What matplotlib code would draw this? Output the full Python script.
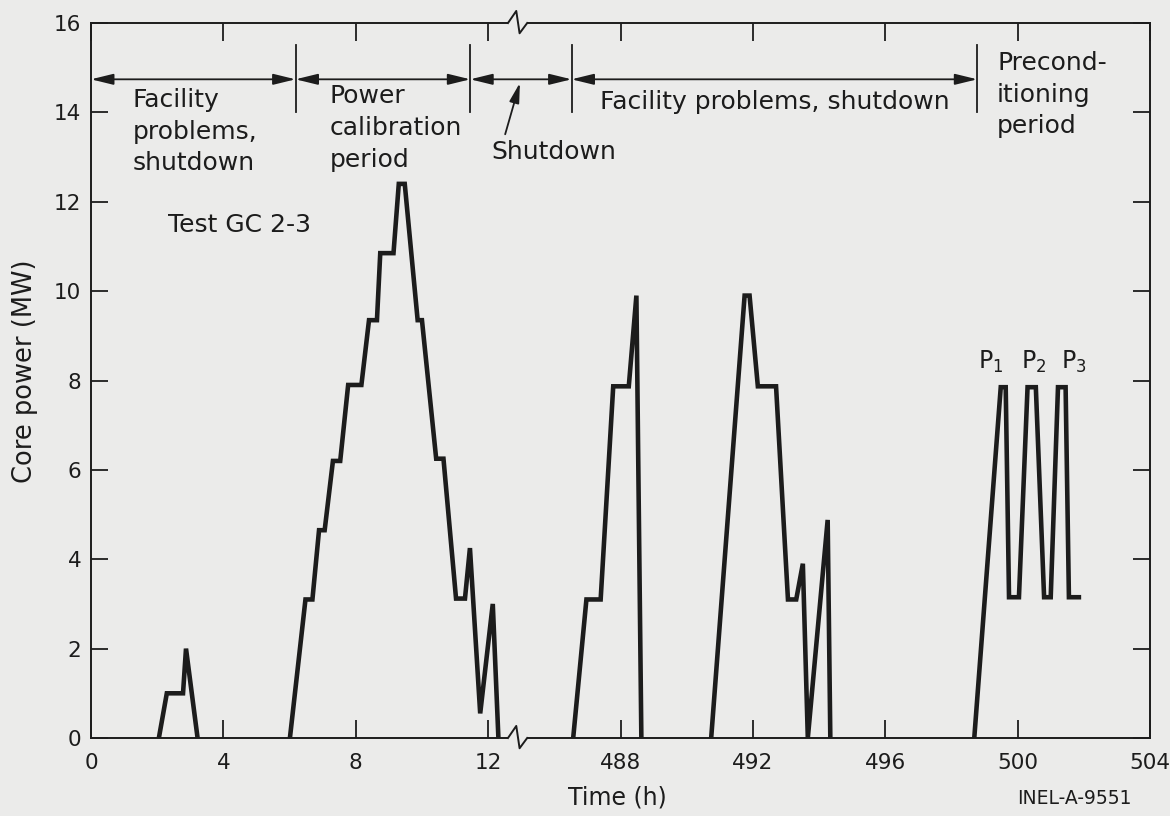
import numpy as np
import matplotlib.pyplot as plt

plt.rcParams['font.family'] = ['DejaVu Sans']
plt.rcParams['mathtext.default'] = 'regular'

BG = '#ebebea'
INK = '#1c1c1c'

# core power history, first day (h)
time_early = [2.05, 2.29, 2.78, 2.87, 3.22,
              6.01, 6.48, 6.69, 6.89, 7.06, 7.31, 7.53, 7.77, 8.17, 8.40, 8.64,
              8.74, 9.14, 9.30, 9.48, 9.87, 10.00, 10.43, 10.65, 11.03, 11.30,
              11.45, 11.76, 12.14, 12.31]
power_early = [0, 1.0, 1.0, 2.0, 0,
               0, 3.1, 3.1, 4.65, 4.65, 6.2, 6.2, 7.9, 7.9, 9.35, 9.35,
               10.85, 10.85, 12.4, 12.4, 9.35, 9.35, 6.25, 6.25, 3.12, 3.12,
               4.25, 0.55, 3.0, 0]

# after the facility outage (h)
time_late = [486.57, 486.97, 487.40, 487.78, 488.25, 488.48, 488.63,
             490.74, 491.75, 491.90, 492.15, 492.70, 493.06, 493.31, 493.51,
             493.66, 494.26, 494.34,
             498.69, 499.49, 499.64, 499.74, 500.04, 500.30, 500.55, 500.80,
             501.00, 501.22, 501.45, 501.55, 501.92]
power_late = [0, 3.1, 3.1, 7.87, 7.87, 9.9, 0,
              0, 9.9, 9.9, 7.87, 7.87, 3.1, 3.1, 3.9,
              0, 4.88, 0,
              0, 7.85, 7.85, 3.15, 3.15, 7.85, 7.85, 3.15, 3.15,
              7.85, 7.85, 3.15, 3.15]

tick_hours = [0, 4, 8, 12, 488, 492, 496, 500, 504]
period_bounds = [0, 6.18, 11.46, 486.52, 498.78]
preconditioning_peaks = ['P$_1$', 'P$_2$', 'P$_3$']
peak_hours = [499.2, 500.5, 501.7]

SKIP = 472.0      # hours cut out of the time axis
BREAK_AT = 12.9   # axis position of the break symbol


def to_axis(t):
    t = np.asarray(t, dtype=float)
    return np.where(t < 100, t, t - SKIP)


def split_zero_runs(t, p):
    # the trace sitting on zero is just the axis line, so leave it out
    xs, ys = [], []
    for i in range(len(t)):
        if i > 0 and p[i] == 0 and p[i - 1] == 0:
            xs.append(np.nan)
            ys.append(np.nan)
        xs.append(t[i])
        ys.append(p[i])
    return np.array(xs), np.array(ys)


fig = plt.figure(figsize=(11.7, 8.16), dpi=100, facecolor=BG)
ax = fig.add_axes([0.0778, 0.0956, 0.9051, 0.8762])
ax.set_facecolor(BG)
ax.set_xlim(0, 32)
ax.set_ylim(0, 16)

for t, p in [(time_early, power_early), (time_late, power_late)]:
    xs, ys = split_zero_runs(t, p)
    ax.plot(to_axis(xs), ys, color=INK, lw=3.3, solid_joinstyle='miter',
            solid_capstyle='butt', zorder=3)

# axes, ticks
for s in ax.spines.values():
    s.set_linewidth(1.4)
    s.set_color(INK)
ax.set_xticks(to_axis(tick_hours))
ax.set_xticklabels([str(h) for h in tick_hours])
ax.set_yticks(np.arange(0, 17, 2))
ax.tick_params(axis='x', direction='in', length=13, width=1.3, top=True,
               pad=11, labelsize=15.5, colors=INK)
ax.tick_params(axis='y', direction='in', length=12, width=1.3, right=True,
               pad=7, labelsize=15.5, colors=INK)

ax.set_xlabel('Time (h)', fontsize=17, color=INK)
ax.xaxis.set_label_coords(0.497, -0.066)
ax.set_ylabel('Core power (MW)', fontsize=18.5, color=INK)
ax.yaxis.set_label_coords(-0.050, 0.513)

# axis break marks on top and bottom spines
zig_dx = np.array([-0.3, -0.05, 0.05, 0.28])
zig_dy = np.array([0.0, 0.27, -0.23, 0.0])
for y0 in (0, 16):
    ax.plot([BREAK_AT - 0.3, BREAK_AT + 0.28], [y0, y0], color=BG, lw=4,
            clip_on=False, zorder=5, solid_capstyle='butt')
    ax.plot(BREAK_AT + zig_dx, y0 + zig_dy, color=INK, lw=1.4,
            clip_on=False, zorder=6)

# period arrows along the top
ARROW_Y = 14.74
bx = to_axis(period_bounds)
for xb in bx[1:]:
    ax.plot([xb, xb], [14.0, 15.5], color=INK, lw=1.3, zorder=4)
for a, b in zip(bx[:-1], bx[1:]):
    ax.annotate('', xy=(b, ARROW_Y), xytext=(a, ARROW_Y),
                arrowprops=dict(arrowstyle='<|-|>,head_length=0.9,head_width=0.22',
                                mutation_scale=15, lw=1.3, color=INK,
                                shrinkA=0, shrinkB=0))

txt = dict(fontsize=18, color=INK, linespacing=1.4, ha='left', va='center')
ax.text(1.25, 13.57, 'Facility\nproblems,\nshutdown', **txt)
ax.text(7.21, 13.65, 'Power\ncalibration\nperiod', **txt)
ax.text(2.34, 11.48, 'Test GC 2-3', **txt)
ax.text(float(to_axis(487.37)), 14.24, 'Facility problems, shutdown', **txt)
ax.text(float(to_axis(499.38)), 14.40, 'Precond-\nitioning\nperiod', **txt)
ax.annotate('Shutdown', xy=(BREAK_AT + 0.06, 14.66), xytext=(12.09, 13.12),
            fontsize=18, color=INK, ha='left', va='center',
            arrowprops=dict(arrowstyle='-|>,head_length=0.8,head_width=0.2',
                            mutation_scale=15, lw=1.3, color=INK,
                            relpos=(0.1, 1.0), shrinkA=2, shrinkB=0))

for lab, h in zip(preconditioning_peaks, peak_hours):
    ax.text(float(to_axis(h)), 8.42, lab, fontsize=17, color=INK,
            ha='center', va='center')

fig.text(1074 / 1170, 1 - 798 / 816, 'INEL-A-9551', fontsize=13.5,
         color=INK, ha='center', va='center')

fig.savefig('out.png', dpi=100, facecolor=BG)
